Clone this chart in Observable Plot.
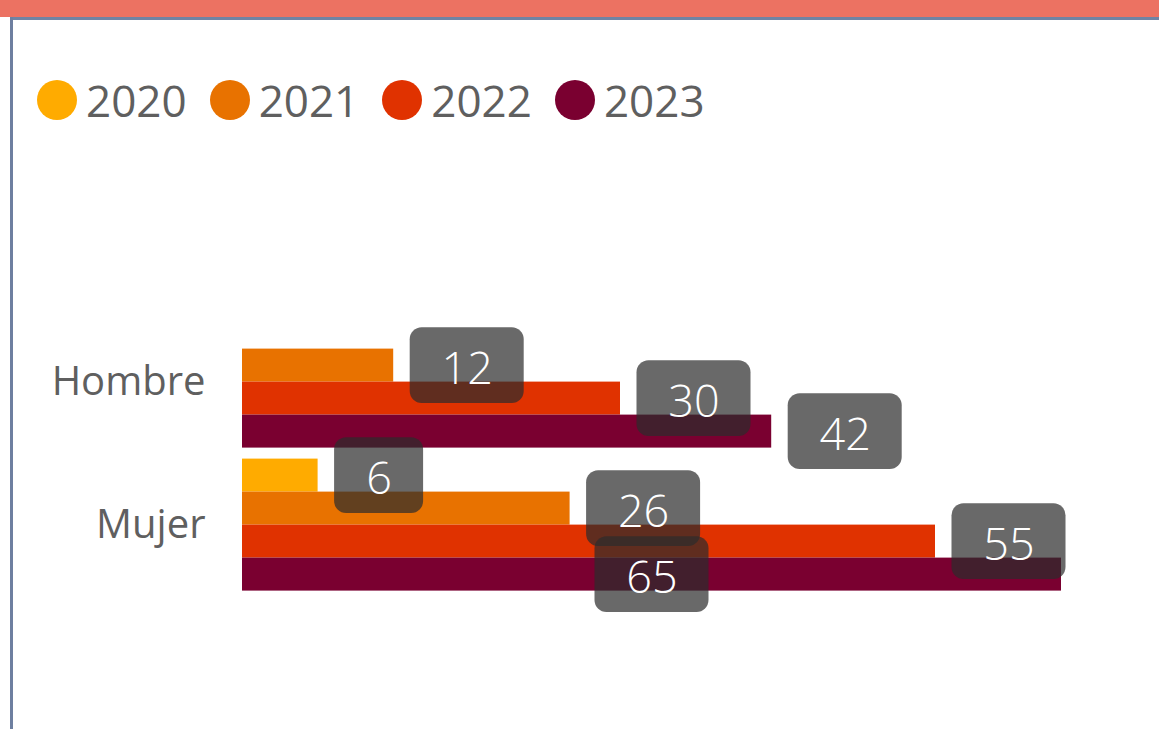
<!DOCTYPE html>
<html>
<head>
<meta charset="utf-8">
<script src="https://cdn.jsdelivr.net/npm/d3@7"></script>
<script src="https://cdn.jsdelivr.net/npm/@observablehq/plot@0.6"></script>
<style>
  html, body { margin: 0; padding: 0; background: #fff; }
  #wrap { position: relative; width: 1159px; height: 729px; overflow: hidden; background: #fff; font-family: "Open Sans", sans-serif; }
  #topbar { position: absolute; left: 0; top: 0; width: 1159px; height: 17px; background: #EC7262; }
  #topline { position: absolute; left: 10px; top: 17px; right: 0; height: 3px; background: #7083A3; }
  #leftline { position: absolute; left: 10px; top: 17px; bottom: 0; width: 3px; background: #6E7FA0; }
  #legend { position: absolute; left: 37px; top: 80px; height: 40px; display: flex; align-items: center; }
  .item { display: flex; align-items: center; margin-right: 23px; }
  .sw { width: 40px; height: 40px; border-radius: 50%; margin-right: 9px; }
  .lt { font-size: 44px; line-height: 40px; color: #5f5f5f; }
  #chart { position: absolute; left: 0; top: 0; }
</style>
</head>
<body>
<div id="wrap">
  <div id="topbar"></div>
  <div id="topline"></div>
  <div id="leftline"></div>
  <div id="legend"></div>
  <div id="chart"></div>
</div>
<script>
const categories = ["Hombre", "Mujer"];
const years = ["2020", "2021", "2022", "2023"];
const hombreValues = [null, 12, 30, 42];
const mujerValues = [6, 26, 55, 65];
const yearColors = ["#FFAB00", "#E87200", "#E03200", "#7A0030"];

const seriesByCat = {Hombre: hombreValues, Mujer: mujerValues};
const data = [];
for (const cat of categories) {
  years.forEach((yr, i) => {
    const v = seriesByCat[cat][i];
    if (v != null) data.push({cat, year: yr, value: v});
  });
}

// Legend
const legend = document.getElementById("legend");
years.forEach((yr, i) => {
  const it = document.createElement("div");
  it.className = "item";
  it.innerHTML = `<div class="sw" style="background:${yearColors[i]}"></div><div class="lt">${yr}</div>`;
  legend.appendChild(it);
});

const xMax = 70;
const pxPerUnit = (1159 - 242 - 35) / xMax;
const boxGap = 16.5;
const fits = d => 242 + d.value * pxPerUnit + boxGap + 114 <= 1159;
const outside1 = data.filter(d => fits(d) && String(d.value).length === 1);
const outside2 = data.filter(d => fits(d) && String(d.value).length > 1);
const inside = data.filter(d => !fits(d));

const boxStyle = {y: "year", fy: "cat", insetTop: -21.4, insetBottom: -21.4, rx: 12, fill: "#2b2b2b", fillOpacity: 0.71};
const textStyle = {y: "year", fy: "cat", text: d => String(d.value), fill: "white", fontSize: 45, fontWeight: 300, textAnchor: "middle", dy: 4};

const chart = Plot.plot({
  width: 1159,
  height: 729,
  marginLeft: 242,
  marginRight: 35,
  marginTop: 314.4,
  marginBottom: 136.6,
  facet: {marginTop: 0, marginRight: 0, marginBottom: 0, marginLeft: 0},
  x: {domain: [0, xMax], axis: null},
  y: {domain: years, axis: null, padding: 0},
  fy: {domain: categories, paddingInner: 0.063, paddingOuter: 0, label: null, axis: null},
  color: {domain: years, range: yearColors},
  style: {fontFamily: "'Open Sans', sans-serif", background: "transparent"},
  marks: [
    Plot.barX(data, {x: "value", y: "year", fy: "cat", fill: "year"}),
    Plot.axisFy({anchor: "left", tickSize: 0, tickPadding: 37, fontSize: 40, color: "#5f5f5f", label: null}),
    Plot.barX(outside2, {...boxStyle, x1: "value", x2: "value", insetLeft: boxGap, insetRight: -(boxGap + 114)}),
    Plot.barX(outside1, {...boxStyle, x1: "value", x2: "value", insetLeft: boxGap, insetRight: -(boxGap + 89)}),
    Plot.barX(inside, {...boxStyle, x1: d => d.value / 2, x2: d => d.value / 2, insetLeft: -57, insetRight: -57}),
    Plot.text(outside2, {...textStyle, x: "value", dx: boxGap + 57}),
    Plot.text(outside1, {...textStyle, x: "value", dx: boxGap + 44.5}),
    Plot.text(inside, {...textStyle, x: d => d.value / 2})
  ]
});
document.getElementById("chart").appendChild(chart);
</script>
</body>
</html>
